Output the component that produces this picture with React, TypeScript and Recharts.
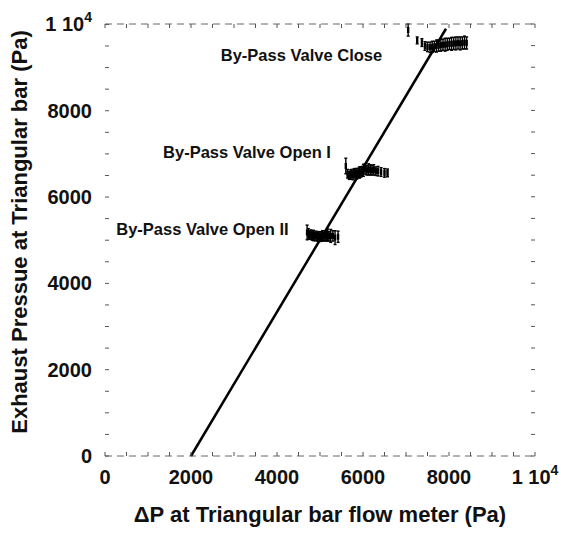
import React from 'react';
import { ComposedChart, Scatter, XAxis, YAxis, ErrorBar, ReferenceDot } from 'recharts';

// axis ticks (minor every 500, labels on the majors)
const axisTicks = [0, 500, 1000, 1500, 2000, 2500, 3000, 3500, 4000, 4500, 5000, 5500, 6000, 6500, 7000, 7500, 8000, 8500, 9000, 9500, 10000];
const majorTicks = [0, 2000, 4000, 6000, 8000, 10000];

// fitted line
const fitX = [2000, 7930];
const fitY = [0, 9900];

// By-Pass Valve Open II
const openIIX = [4700, 4730, 4760, 4790, 4820, 4850, 4880, 4910, 4940, 4970, 5000, 5030, 5060, 5090, 5120, 5150, 5180, 5210, 5250, 5300, 5350, 5420];
const openIIY = [5180, 5150, 5120, 5130, 5100, 5110, 5090, 5100, 5080, 5090, 5070, 5090, 5100, 5080, 5100, 5090, 5120, 5090, 5100, 5100, 5060, 5080];
const openIIErr = [170, 120, 100, 110, 100, 120, 100, 110, 100, 110, 100, 110, 120, 100, 110, 110, 140, 110, 150, 120, 160, 130];

// By-Pass Valve Open I
const openIX = [5600, 5640, 5680, 5710, 5740, 5770, 5800, 5830, 5860, 5890, 5920, 5950, 5980, 6010, 6050, 6090, 6130, 6170, 6210, 6250, 6300, 6350, 6420, 6500, 6570];
const openIY = [6720, 6540, 6500, 6520, 6540, 6520, 6550, 6560, 6540, 6560, 6570, 6580, 6600, 6620, 6650, 6620, 6640, 6630, 6620, 6630, 6600, 6600, 6580, 6560, 6560];
const openIErr = [180, 100, 90, 110, 100, 120, 110, 100, 120, 110, 130, 120, 110, 140, 120, 110, 130, 120, 110, 120, 100, 110, 100, 100, 90];

// By-Pass Valve Close
const closeX = [7050, 7260, 7370, 7440, 7500, 7560, 7610, 7660, 7710, 7760, 7810, 7860, 7910, 7960, 8010, 8060, 8110, 8160, 8210, 8260, 8310, 8360, 8410];
const closeY = [9870, 9630, 9580, 9500, 9480, 9470, 9480, 9490, 9500, 9510, 9520, 9530, 9530, 9540, 9550, 9550, 9560, 9560, 9570, 9560, 9570, 9580, 9570];
const closeErr = [140, 80, 90, 100, 110, 120, 130, 120, 140, 130, 140, 130, 150, 140, 130, 150, 140, 150, 140, 150, 140, 150, 140];

const toPoints = (xs: number[], ys: number[], es?: number[]) =>
  xs.map((x, i) => ({ x, y: ys[i], e: es ? es[i] : 0 }));

const fitLine = toPoints(fitX, fitY);
const openII = toPoints(openIIX, openIIY, openIIErr);
const openI = toPoints(openIX, openIY, openIErr);
const closed = toPoints(closeX, closeY, closeErr);

const FONT = '"Liberation Sans", Arial, sans-serif';

const TickText = ({ x, y, value, anchor }: any) => {
  if (value === 10000) {
    return (
      <text x={x} y={y} textAnchor={anchor} fontSize={20} fontWeight={700} fontFamily={FONT} fill="#111">
        1 10<tspan dy={-9} fontSize={14}>4</tspan>
      </text>
    );
  }
  return (
    <text x={x} y={y} textAnchor={anchor} fontSize={20} fontWeight={700} fontFamily={FONT} fill="#111">
      {value}
    </text>
  );
};

const BottomTick = ({ x, y, payload }: any) => (
  <g>
    <line x1={x} y1={y} x2={x} y2={y - 4} stroke="#555" />
    {majorTicks.includes(payload.value) && <TickText x={x} y={y + 28} value={payload.value} anchor="middle" />}
  </g>
);

const LeftTick = ({ x, y, payload }: any) => (
  <g>
    <line x1={x} y1={y} x2={x + 4} y2={y} stroke="#555" />
    {majorTicks.includes(payload.value) && <TickText x={x - 13} y={y + 7} value={payload.value} anchor="end" />}
  </g>
);

const TopTick = ({ x, y }: any) => <line x1={x} y1={y} x2={x} y2={y + 4} stroke="#555" />;
const RightTick = ({ x, y }: any) => <line x1={x} y1={y} x2={x - 4} y2={y} stroke="#555" />;

const Hatch = ({ cx, cy }: any) => <rect x={cx - 1.2} y={cy - 3} width={2.4} height={6} fill="#000" />;

const annotation = (value: string) => ({
  value,
  position: 'center' as const,
  fontSize: 16.5,
  fontWeight: 700,
  fontFamily: FONT,
  fill: '#111',
});

export default function App() {
  return (
    <div style={{ position: 'absolute', left: 0, top: 0, width: 561, height: 533, background: '#fff', fontFamily: FONT }}>
      <ComposedChart width={561} height={533} margin={{ top: 0, right: 0, bottom: 0, left: 0 }}>
        <XAxis
          dataKey="x"
          type="number"
          domain={[0, 10000]}
          ticks={axisTicks}
          interval={0}
          tickSize={0}
          tickMargin={0}
          height={77}
          axisLine={{ stroke: '#666', strokeDasharray: '7 5' }}
          tickLine={false}
          tick={<BottomTick />}
          label={{ value: 'ΔP at Triangular bar flow meter (Pa)', position: 'insideBottom', offset: 11, fontSize: 22, fontWeight: 700, fontFamily: FONT, fill: '#111' }}
        />
        <XAxis
          xAxisId="top"
          orientation="top"
          dataKey="x"
          type="number"
          domain={[0, 10000]}
          ticks={axisTicks}
          interval={0}
          tickSize={0}
          tickMargin={0}
          height={24}
          axisLine={{ stroke: '#666', strokeDasharray: '7 5' }}
          tickLine={false}
          tick={<TopTick />}
        />
        <YAxis
          dataKey="y"
          type="number"
          domain={[0, 10000]}
          ticks={axisTicks}
          interval={0}
          tickSize={0}
          tickMargin={0}
          width={105}
          axisLine={false}
          tickLine={false}
          tick={<LeftTick />}
          label={{
            content: ({ viewBox }: any) => {
              const cx = viewBox.x + 19;
              const cy = viewBox.y + viewBox.height / 2 - 8;
              return (
                <text x={cx} y={cy} transform={`rotate(-90, ${cx}, ${cy})`} textAnchor="middle" dominantBaseline="central" fontSize={22} fontWeight={700} fontFamily={FONT} fill="#111">
                  Exhaust Pressue at Triangular bar (Pa)
                </text>
              );
            },
          }}
        />
        <YAxis
          yAxisId="right"
          orientation="right"
          dataKey="y"
          type="number"
          domain={[0, 10000]}
          ticks={axisTicks}
          interval={0}
          tickSize={0}
          tickMargin={0}
          width={26}
          axisLine={false}
          tickLine={false}
          tick={<RightTick />}
        />
        {/* invisible series so the frame axes (top / right) get drawn */}
        <Scatter data={fitLine} xAxisId="top" yAxisId="right" shape={() => <g />} isAnimationActive={false} />
        <Scatter data={fitLine} line={{ stroke: '#000', strokeWidth: 2.5 }} shape={() => <g />} isAnimationActive={false} />
        <Scatter data={openII} shape={<Hatch />} isAnimationActive={false}>
          <ErrorBar dataKey="e" direction="y" width={1.5} stroke="#000" strokeWidth={1.4} />
        </Scatter>
        <Scatter data={openI} shape={<Hatch />} isAnimationActive={false}>
          <ErrorBar dataKey="e" direction="y" width={1.5} stroke="#000" strokeWidth={1.4} />
        </Scatter>
        <Scatter data={closed} shape={<Hatch />} isAnimationActive={false}>
          <ErrorBar dataKey="e" direction="y" width={1.5} stroke="#000" strokeWidth={1.4} />
        </Scatter>
        <ReferenceDot x={4570} y={9282} r={0} stroke="none" label={annotation('By-Pass Valve Close')} />
        <ReferenceDot x={3302} y={7037} r={0} stroke="none" label={annotation('By-Pass Valve Open I')} />
        <ReferenceDot x={2267} y={5255} r={0} stroke="none" label={annotation('By-Pass Valve Open II')} />
      </ComposedChart>
    </div>
  );
}
